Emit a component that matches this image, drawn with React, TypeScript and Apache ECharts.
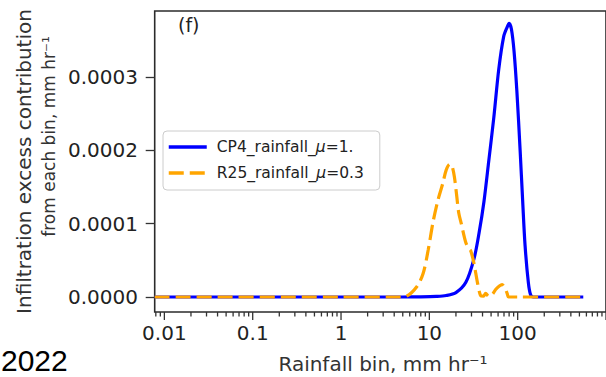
import React, { useEffect, useRef } from 'react';
import * as echarts from 'echarts';

// CP4 curve (rainfall bin mm/hr, contribution mm/hr)
const cp4X = [0.00777, 1, 5, 8, 12, 15.5, 20, 25.9, 32, 36.5, 41.5, 47, 53.7, 61, 69.4, 76, 80, 85, 91, 98, 106.6, 114, 121.3, 132, 140, 150, 200, 553];
const cp4Y = [0, 0, 0, 0.0000002, 0.0000008, 0.000002, 0.000006, 0.00002, 0.000052, 0.000087, 0.00013, 0.000185, 0.000245, 0.00031, 0.000355, 0.000368, 0.000373, 0.000365, 0.000335, 0.00028, 0.0002, 0.00013, 0.00007, 0.00002, 0.000003, 0, 0, 0];

// R25 curve
const r25X = [0.00777, 1, 4.7, 5.5, 7.2, 8.5, 9.7, 11, 12.5, 14.2, 15.5, 17, 18, 19.2, 20.4, 21.5, 23, 25.9, 28, 29.4, 32, 35, 38, 41, 43.4, 47, 52, 56, 62, 66.6, 72, 76, 79, 100, 553];
const r25Y = [0, 0, 0, 0.000001, 0.000014, 0.000032, 0.000064, 0.000102, 0.000132, 0.000155, 0.000173, 0.000181, 0.000179, 0.000164, 0.000138, 0.000115, 0.0001, 0.000074, 0.000066, 0.000063, 0.000046, 0.00002, 0.000002, 0.000001, 0.000005, 0.000001, 0.000004, 0.00001, 0.000015, 0.000017, 0.000012, 0.000005, 0, 0, 0];

const seriesNames = ['CP4_rainfall_μ=1.', 'R25_rainfall_μ=0.3'];

const xTickLabels = [0.01, 0.1, 1, 10, 100];
const xMajorTicks = [0.01, 0.1, 1, 10, 100, 1000];
const xMinorMultipliers = [2, 3, 4, 5, 6, 7, 8, 9];
const xDecades = [0.001, 0.01, 0.1, 1, 10, 100];
const yTicks = [0, 0.0001, 0.0002, 0.0003];

const X_MIN = 0.00777;
const X_MAX = 1000;
const Y_MIN = -0.00002045;
const Y_MAX = 0.00039;

const FONT = 'DejaVu Sans';
const TXT = '#222222';

export default function App() {
  const ref = useRef<HTMLDivElement>(null);

  useEffect(() => {
    document.body.style.margin = '0';
    if (!ref.current) return;
    const chart = echarts.init(ref.current, null, { renderer: 'svg' });

    const minorTicks: number[] = [];
    xDecades.forEach((d) => {
      xMinorMultipliers.forEach((m) => {
        const v = d * m;
        if (v >= X_MIN && v <= X_MAX) minorTicks.push(v);
      });
    });
    const tickData = [
      ...xMajorTicks.map((v) => [v, 8]),
      ...minorTicks.map((v) => [v, 4.5]),
    ];

    const cp4 = cp4X.map((x, i) => [x, cp4Y[i]]);
    const r25 = r25X.map((x, i) => [x, r25Y[i]]);

    chart.setOption({
      animation: false,
      backgroundColor: '#ffffff',
      grid: {
        left: 154.7,
        right: -6,
        top: 11,
        bottom: 65,
        show: true,
        borderColor: '#2b2b2b',
        borderWidth: 1.6,
        backgroundColor: 'transparent',
      },
      xAxis: {
        type: 'log',
        logBase: 10,
        min: X_MIN,
        max: X_MAX,
        axisLine: { show: false },
        axisTick: { show: false },
        splitLine: { show: false },
        minorTick: { show: false },
        axisLabel: {
          margin: 11,
          fontFamily: FONT,
          fontSize: 20,
          color: TXT,
          showMinLabel: false,
          showMaxLabel: false,
          formatter: (v: number) => {
            const hit = xTickLabels.find((t) => Math.abs(Math.log10(v) - Math.log10(t)) < 1e-6);
            return hit !== undefined ? String(hit) : '';
          },
        },
      },
      yAxis: {
        type: 'value',
        min: Y_MIN,
        max: Y_MAX,
        axisLine: { show: false },
        splitLine: { show: false },
        axisTick: {
          show: true,
          length: 9,
          customValues: yTicks,
          lineStyle: { color: '#333333', width: 1.3 },
        },
        axisLabel: {
          customValues: yTicks,
          margin: 16.7,
          fontFamily: FONT,
          fontSize: 20,
          color: TXT,
          formatter: (v: number) => {
            const hit = yTicks.find((t) => Math.abs(t - v) < 1e-9);
            return hit !== undefined ? hit.toFixed(4) : '';
          },
        },
      },
      legend: {
        orient: 'vertical',
        left: 163,
        top: 131,
        data: seriesNames,
        backgroundColor: 'rgba(255,255,255,0.8)',
        borderColor: '#cccccc',
        borderWidth: 1,
        borderRadius: 4,
        padding: [7, 16, 8, 4],
        itemWidth: 38,
        itemHeight: 14,
        itemGap: 8,
        itemStyle: { opacity: 0, color: 'transparent', borderWidth: 0 },
        lineStyle: { width: 3.5 },
        textStyle: {
          fontFamily: FONT,
          fontSize: 15.5,
          lineHeight: 18,
          color: TXT,
          padding: [0, 0, 0, 5],
          rich: {
            i: { fontFamily: FONT, fontSize: 15.5, fontStyle: 'italic', color: TXT },
          },
        },
        formatter: (name: string) => name.replace('μ', '{i|μ}'),
      },
      series: [
        {
          name: seriesNames[0],
          type: 'line',
          data: cp4,
          symbol: 'none',
          smooth: 0.3,
          color: '#0000ff',
          lineStyle: { color: '#0000ff', width: 3.2 },
          z: 3,
        },
        {
          name: seriesNames[1],
          type: 'line',
          data: r25,
          symbol: 'none',
          smooth: 0.3,
          color: '#ffa500',
          lineStyle: { color: '#ffa500', width: 3.2, type: [15, 6] },
          z: 4,
        },
        {
          name: 'xticks',
          type: 'custom',
          silent: true,
          data: tickData,
          encode: { x: 0 },
          renderItem: (params: any, api: any) => {
            const p = api.coord([api.value(0), Y_MIN]);
            const len = api.value(1);
            return {
              type: 'line',
              shape: { x1: p[0], y1: p[1], x2: p[0], y2: p[1] + len },
              style: { stroke: '#333333', lineWidth: 1.3 },
            };
          },
        },
      ],
      graphic: [
        {
          type: 'text',
          left: 178,
          top: 15,
          style: { text: '(f)', fontFamily: FONT, fontSize: 19, fill: TXT },
        },
        {
          type: 'text',
          x: 23.5,
          y: 161.5,
          rotation: Math.PI / 2,
          style: {
            text: 'Infiltration excess contribution',
            fontFamily: FONT,
            fontSize: 20,
            fill: '#333333',
            align: 'center',
            verticalAlign: 'middle',
          },
        },
        {
          type: 'text',
          x: 48.5,
          y: 136.5,
          rotation: Math.PI / 2,
          style: {
            text: 'from each bin, mm hr⁻¹',
            fontFamily: FONT,
            fontSize: 17,
            fill: '#333333',
            align: 'center',
            verticalAlign: 'middle',
          },
        },
        {
          type: 'text',
          x: 383,
          y: 364,
          style: {
            text: 'Rainfall bin, mm hr⁻¹',
            fontFamily: FONT,
            fontSize: 20,
            fill: '#333333',
            align: 'center',
            verticalAlign: 'middle',
          },
        },
        {
          type: 'text',
          x: 1,
          y: 360,
          style: {
            text: '2022',
            fontFamily: 'Liberation Sans',
            fontSize: 30,
            lineHeight: 26,
            fill: '#000000',
            align: 'left',
            verticalAlign: 'middle',
          },
        },
      ],
    });

    return () => chart.dispose();
  }, []);

  return (
    <div
      ref={ref}
      style={{ position: 'fixed', left: 0, top: 0, width: 606, height: 377 }}
    />
  );
}
